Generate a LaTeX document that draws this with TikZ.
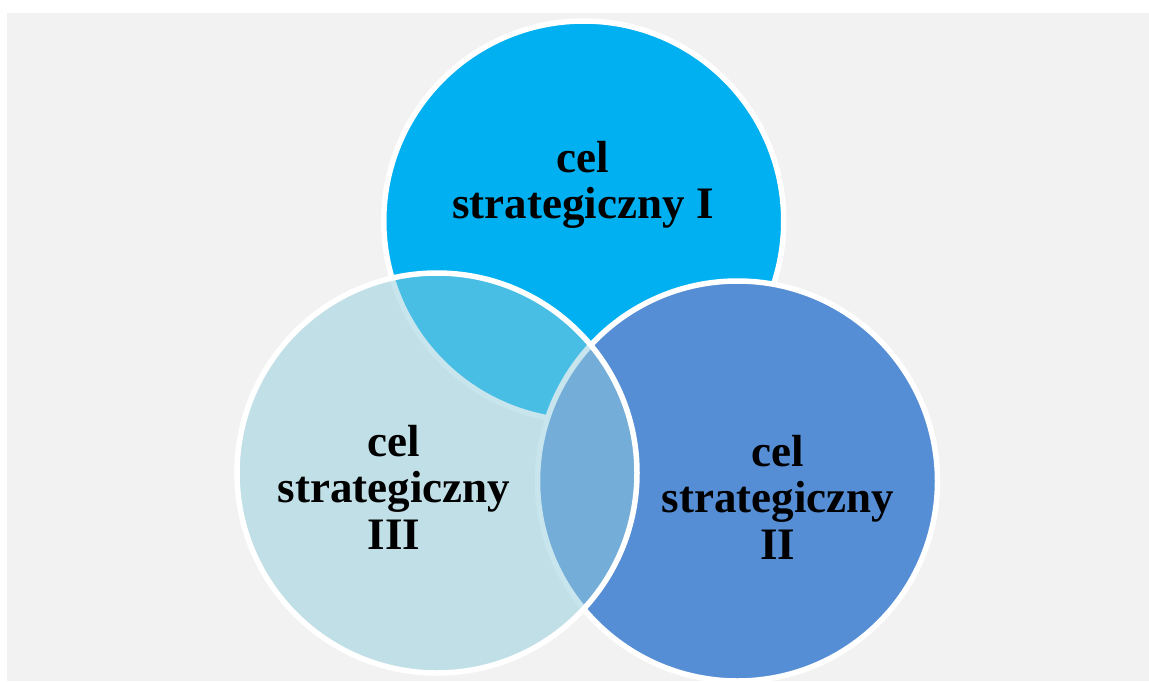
\documentclass[tikz,border=0pt]{standalone}
\usepackage{fontspec}
\setmainfont{Liberation Serif}
\definecolor{bgc}{HTML}{F2F2F2}
\definecolor{cone}{HTML}{00B0F0}
\definecolor{ctwo}{HTML}{558ED5}
\definecolor{cthree}{HTML}{92CDDC}
\begin{document}
\begin{tikzpicture}[x=1pt,y=-1pt,
  ring/.style={circle,draw=white,line width=5.5pt,minimum size=400pt,inner sep=0pt,outer sep=0pt},
  lbl/.style={align=center,font=\fontsize{45}{46.5}\selectfont\bfseries,text=black,inner sep=0pt}]
\useasboundingbox (0,0) rectangle (1149,681);
\fill[white] (0,0) rectangle (1149,681);
\fill[bgc] (7,13) rectangle (1149,681);
\node[ring,fill=cone] (c1) at (583.75,221) {};
\node[ring,fill=ctwo] (c2) at (737.5,481) {};
\node[ring,fill=cthree,fill opacity=0.5] (c3) at (437,473) {};
\node[lbl] (t1) at (583,185) {cel\\strategiczny I};
\node[lbl] (t3) at (394,487) {cel\\strategiczny\\III};
\node[lbl] (t2) at (778,497) {cel\\strategiczny\\II};
\end{tikzpicture}
\end{document}
